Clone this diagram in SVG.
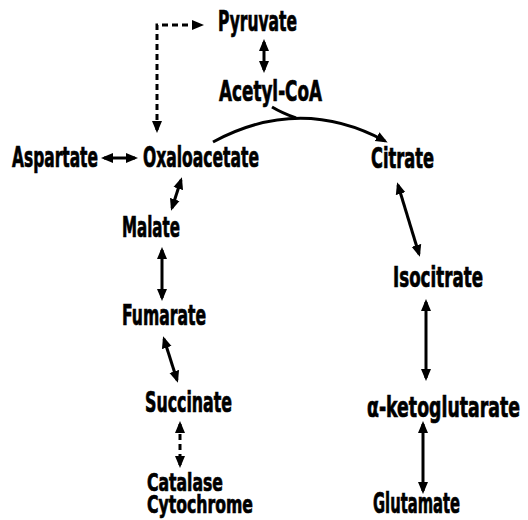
<svg xmlns="http://www.w3.org/2000/svg" width="528" height="520" viewBox="0 0 528 520">
<style>
text{font-family:"Liberation Sans Narrow","DejaVu Sans Condensed","Liberation Sans",sans-serif;font-weight:bold;font-size:28px;fill:#000;stroke:#000;stroke-width:0.7}
text.s{font-size:25px}
.c{fill:none;stroke:#000;stroke-width:3}
.d{stroke-dasharray:6 4}
</style>
<defs>
<marker id="ah" markerUnits="userSpaceOnUse" markerWidth="13" markerHeight="11" refX="9" refY="5" orient="auto-start-reverse" viewBox="0 0 13 10">
<path d="M0,0 L12,5 L0,10 z" fill="#000"/>
</marker>
</defs>
<rect width="528" height="520" fill="#fff"/>
<g id="connectors">
<line class="c" x1="264" y1="42" x2="264" y2="70" marker-start="url(#ah)" marker-end="url(#ah)"/>
<path class="c d" d="M157,130 V25 H201" marker-start="url(#ah)" marker-end="url(#ah)"/>
<path class="c" d="M213,142 Q300,95 385,141" marker-end="url(#ah)"/>
<path class="c" d="M272,107 Q282,113 296,118"/>
<line class="c" x1="104" y1="158" x2="135" y2="158" marker-start="url(#ah)" marker-end="url(#ah)"/>
<line class="c" x1="181" y1="180" x2="172" y2="208" marker-start="url(#ah)" marker-end="url(#ah)"/>
<line class="c" x1="162" y1="250" x2="162" y2="298" marker-start="url(#ah)" marker-end="url(#ah)"/>
<line class="c" x1="164" y1="339" x2="177" y2="380" marker-start="url(#ah)" marker-end="url(#ah)"/>
<line class="c d" x1="180" y1="424" x2="180" y2="465" marker-start="url(#ah)" marker-end="url(#ah)"/>
<line class="c" x1="398" y1="185" x2="419" y2="254" marker-start="url(#ah)" marker-end="url(#ah)"/>
<line class="c" x1="426" y1="302" x2="426" y2="378" marker-start="url(#ah)" marker-end="url(#ah)"/>
<line class="c" x1="423" y1="424" x2="423" y2="491" marker-start="url(#ah)" marker-end="url(#ah)"/>
</g>
<g id="pyruvate"><text x="218" y="31" textLength="79" lengthAdjust="spacingAndGlyphs">Pyruvate</text></g>
<g id="acetylcoa"><text x="219" y="101" textLength="103" lengthAdjust="spacingAndGlyphs">Acetyl-CoA</text></g>
<g id="aspartate"><text x="12" y="167" textLength="86" lengthAdjust="spacingAndGlyphs">Aspartate</text></g>
<g id="oxaloacetate"><text x="143" y="167" textLength="116" lengthAdjust="spacingAndGlyphs">Oxaloacetate</text></g>
<g id="citrate"><text x="371" y="168" textLength="63" lengthAdjust="spacingAndGlyphs">Citrate</text></g>
<g id="malate"><text x="122" y="237" textLength="58" lengthAdjust="spacingAndGlyphs">Malate</text></g>
<g id="isocitrate"><text x="393" y="287" textLength="90" lengthAdjust="spacingAndGlyphs">Isocitrate</text></g>
<g id="fumarate"><text x="122" y="325" textLength="84" lengthAdjust="spacingAndGlyphs">Fumarate</text></g>
<g id="succinate"><text x="145" y="412" textLength="87" lengthAdjust="spacingAndGlyphs">Succinate</text></g>
<g id="aketoglutarate"><text x="367" y="417" textLength="153" lengthAdjust="spacingAndGlyphs">α-ketoglutarate</text></g>
<g id="catalase"><text class="s" x="147" y="491" textLength="76" lengthAdjust="spacingAndGlyphs">Catalase</text><text class="s" x="147" y="513" textLength="106" lengthAdjust="spacingAndGlyphs">Cytochrome</text></g>
<g id="glutamate"><text x="373" y="513" textLength="87" lengthAdjust="spacingAndGlyphs">Glutamate</text></g>
</svg>
